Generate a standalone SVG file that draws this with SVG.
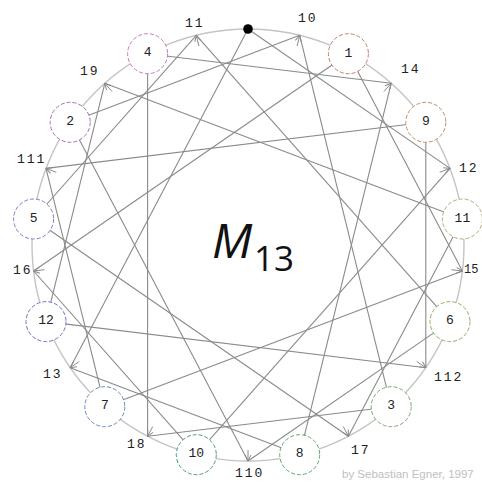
<svg xmlns="http://www.w3.org/2000/svg" width="482" height="482" viewBox="0 0 482 482">
<style>
.ring{fill:none;stroke:#c4c4c4;stroke-width:1.4}
.ch{stroke:#8a8a8a;stroke-width:1.1;fill:none}
.ar{stroke:#8a8a8a;stroke-width:1;fill:none;marker-end:url(#ah)}
.nd{fill:#fff;stroke-width:1;stroke-dasharray:4 2}
.nt{font-family:"Liberation Mono",monospace;font-size:13px;fill:#222;text-anchor:middle}
.lt{font-family:"Liberation Mono",monospace;font-size:13px;fill:#222;letter-spacing:2px}
</style>
<defs>
<marker id="ah" markerUnits="userSpaceOnUse" markerWidth="8" markerHeight="8" viewBox="0 0 8 8" refX="7" refY="4" orient="auto">
<path d="M1,1 L7,4 L1,7" fill="none" stroke="#8a8a8a" stroke-width="1"/>
</marker>
</defs>
<rect width="482" height="482" fill="#fff"/>
<g id="connectors">
<circle class="ring" cx="248" cy="245" r="216"/>
<line class="ch" x1="248" y1="29" x2="450" y2="168.4"/>
<line class="ch" x1="248" y1="29" x2="70.2" y2="367.7"/>
<line class="ch" x1="299.7" y1="35.3" x2="70.2" y2="122.3"/>
<line class="ch" x1="299.7" y1="35.3" x2="391.2" y2="406.7"/>
<line class="ch" x1="348.4" y1="53.7" x2="33.6" y2="271"/>
<line class="ch" x1="348.4" y1="53.7" x2="462.4" y2="271"/>
<line class="ch" x1="391.2" y1="83.3" x2="147.6" y2="53.7"/>
<line class="ch" x1="391.2" y1="83.3" x2="299.7" y2="454.7"/>
<line class="ch" x1="425.8" y1="122.3" x2="46" y2="168.4"/>
<line class="ch" x1="425.8" y1="122.3" x2="425.8" y2="367.7"/>
<line class="ch" x1="450" y1="168.4" x2="196.3" y2="454.7"/>
<line class="ch" x1="462.4" y1="219" x2="104.8" y2="83.3"/>
<line class="ch" x1="462.4" y1="219" x2="348.4" y2="436.3"/>
<line class="ch" x1="462.4" y1="271" x2="104.8" y2="406.7"/>
<line class="ch" x1="450" y1="321.6" x2="248" y2="461"/>
<line class="ch" x1="450" y1="321.6" x2="196.3" y2="35.3"/>
<line class="ch" x1="425.8" y1="367.7" x2="46" y2="321.6"/>
<line class="ch" x1="391.2" y1="406.7" x2="147.6" y2="436.3"/>
<line class="ch" x1="348.4" y1="436.3" x2="33.6" y2="219"/>
<line class="ch" x1="299.7" y1="454.7" x2="70.2" y2="367.7"/>
<line class="ch" x1="248" y1="461" x2="70.2" y2="122.3"/>
<line class="ch" x1="196.3" y1="454.7" x2="33.6" y2="271"/>
<line class="ch" x1="147.6" y1="436.3" x2="147.6" y2="53.7"/>
<line class="ch" x1="104.8" y1="406.7" x2="46" y2="168.4"/>
<line class="ch" x1="46" y1="321.6" x2="104.8" y2="83.3"/>
<line class="ch" x1="33.6" y1="219" x2="196.3" y2="35.3"/>
<line class="ar" x1="297.1" y1="46" x2="299.7" y2="35.3"/>
<line class="ar" x1="383.9" y1="91.5" x2="391.2" y2="83.3"/>
<line class="ar" x1="439.7" y1="172.3" x2="450" y2="168.4"/>
<line class="ar" x1="451.5" y1="269.7" x2="462.4" y2="271"/>
<line class="ar" x1="416.7" y1="361.5" x2="425.8" y2="367.7"/>
<line class="ar" x1="343.3" y1="426.6" x2="348.4" y2="436.3"/>
<line class="ar" x1="248" y1="450" x2="248" y2="461"/>
<line class="ar" x1="152.7" y1="426.6" x2="147.6" y2="436.3"/>
<line class="ar" x1="79.3" y1="361.5" x2="70.2" y2="367.7"/>
<line class="ar" x1="44.5" y1="269.7" x2="33.6" y2="271"/>
<line class="ar" x1="56.3" y1="172.3" x2="46" y2="168.4"/>
<line class="ar" x1="112.1" y1="91.5" x2="104.8" y2="83.3"/>
<line class="ar" x1="198.9" y1="46" x2="196.3" y2="35.3"/>
</g>
<g id="p0"><circle cx="248" cy="29" r="4.8" fill="#000"/></g>
<g id="p1"><circle class="nd" cx="348.4" cy="53.7" r="20" stroke="#c08070"/><text class="nt" x="348.4" y="56.5">1</text></g>
<g id="p9"><circle class="nd" cx="425.8" cy="122.3" r="20" stroke="#c09060"/><text class="nt" x="425.8" y="125">9</text></g>
<g id="p11"><circle class="nd" cx="462.4" cy="219" r="20" stroke="#b8a878"/><text class="nt" x="462.4" y="221.5">11</text></g>
<g id="p6"><circle class="nd" cx="450" cy="321.6" r="20" stroke="#90b060"/><text class="nt" x="450" y="324">6</text></g>
<g id="p3"><circle class="nd" cx="391.2" cy="406.7" r="20" stroke="#78aa70"/><text class="nt" x="391.2" y="409">3</text></g>
<g id="p8"><circle class="nd" cx="299.7" cy="454.7" r="20" stroke="#5aaa70"/><text class="nt" x="299.7" y="457">8</text></g>
<g id="p10"><circle class="nd" cx="196.3" cy="454.7" r="20" stroke="#4a9a90"/><text class="nt" x="196.3" y="457">10</text></g>
<g id="p7"><circle class="nd" cx="104.8" cy="406.7" r="20" stroke="#6a88c0"/><text class="nt" x="104.8" y="409">7</text></g>
<g id="p12"><circle class="nd" cx="46" cy="321.6" r="20" stroke="#6a70c8"/><text class="nt" x="46" y="324">12</text></g>
<g id="p5"><circle class="nd" cx="33.6" cy="219" r="20" stroke="#8c78c0"/><text class="nt" x="33.6" y="221.5">5</text></g>
<g id="p2"><circle class="nd" cx="70.2" cy="122.3" r="20" stroke="#a070b0"/><text class="nt" x="70.2" y="124.5">2</text></g>
<g id="p4"><circle class="nd" cx="147.6" cy="53.7" r="20" stroke="#c878b8"/><text class="nt" x="147.6" y="56">4</text></g>
<g id="l0"><text class="lt" x="298" y="22">10</text></g>
<g id="l4"><text class="lt" x="401" y="73">14</text></g>
<g id="l2"><text class="lt" x="459" y="172">12</text></g>
<g id="l5"><text x="464" y="273" font-family="'Liberation Mono',monospace" font-size="12" fill="#222">15</text></g>
<g id="l12"><text class="lt" x="434" y="381">112</text></g>
<g id="l7"><text class="lt" x="351" y="454">17</text></g>
<g id="l10"><text class="lt" x="235" y="477">110</text></g>
<g id="l8"><text class="lt" x="127" y="448">18</text></g>
<g id="l3"><text class="lt" x="43" y="378">13</text></g>
<g id="l6"><text class="lt" x="13" y="274">16</text></g>
<g id="l11"><text class="lt" x="17" y="163">111</text></g>
<g id="l9"><text class="lt" x="80" y="75">19</text></g>
<g id="l1"><text class="lt" x="185" y="27">11</text></g>
<g id="title"><text x="212" y="258" font-family="'Open Sans',sans-serif" font-style="italic" font-size="48" fill="#111">M</text><text x="254" y="271" font-family="'Open Sans',sans-serif" font-size="35" fill="#111">13</text></g>
<text x="342" y="478" font-family="'Liberation Sans',sans-serif" font-size="11.5" fill="#c0c0c0">by Sebastian Egner, 1997</text>
</svg>
